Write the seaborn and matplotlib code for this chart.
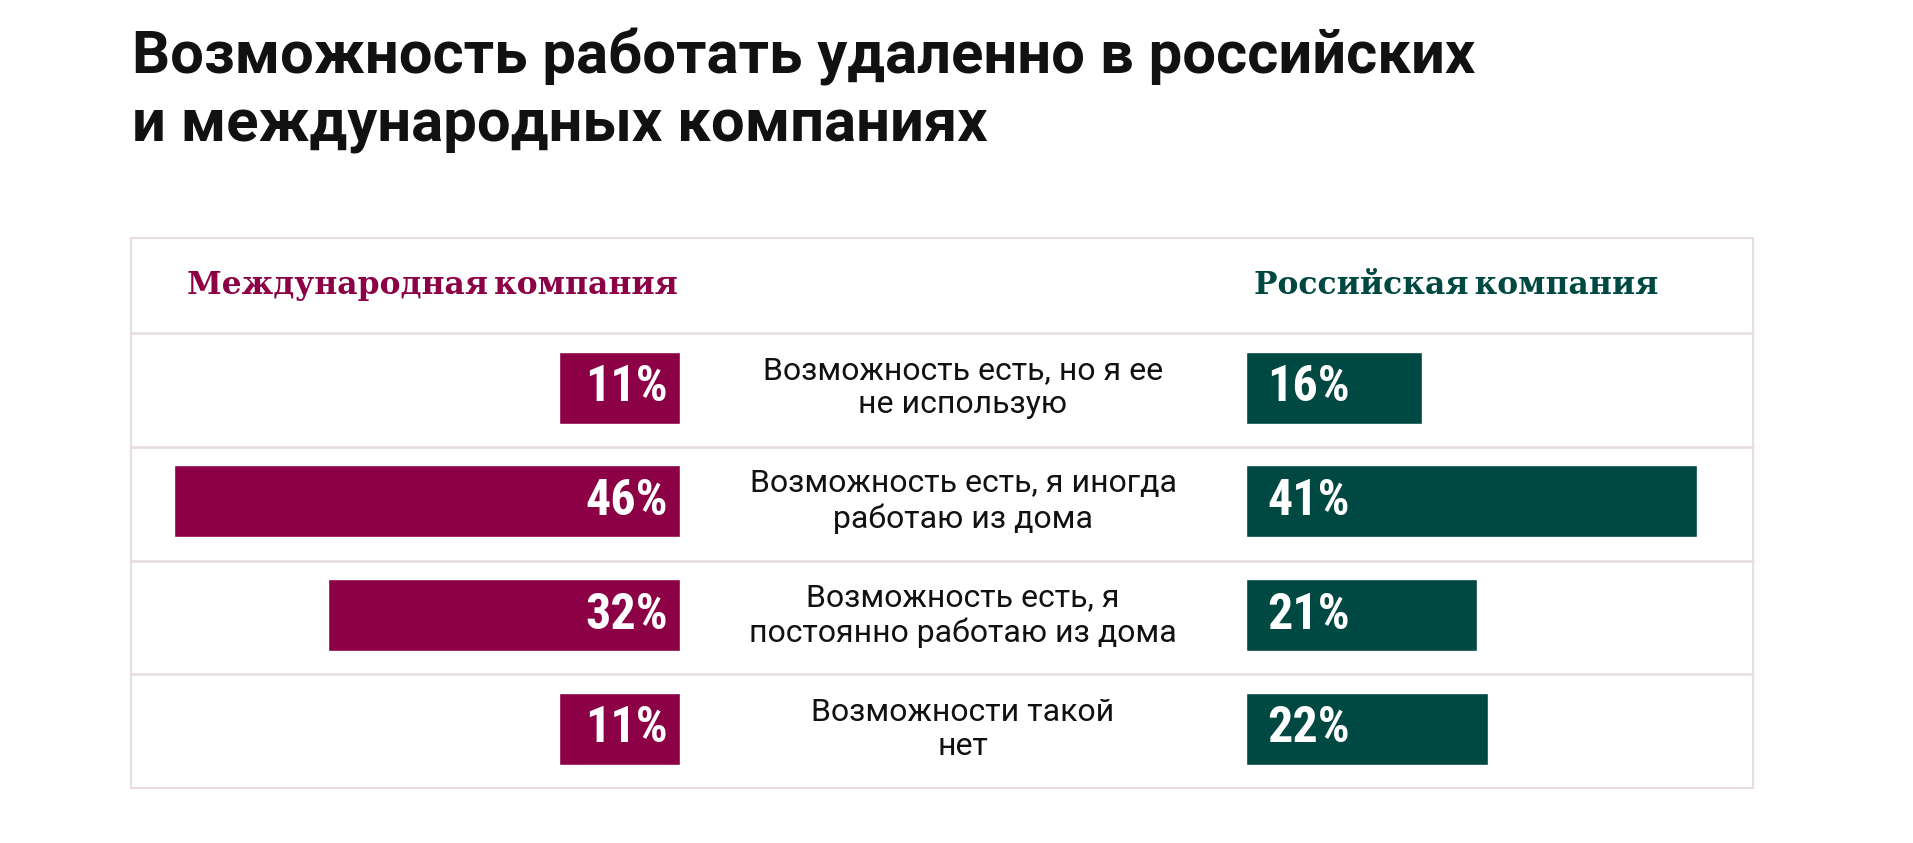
import numpy as np
import pandas as pd
import seaborn as sns
import matplotlib.pyplot as plt
from matplotlib import font_manager

# ---- data ----
answers = [
    "Возможность есть, но я ее\nне использую",
    "Возможность есть, я иногда\nработаю из дома",
    "Возможность есть, я\nпостоянно работаю из дома",
    "Возможности такой\nнет",
]
intl_share = [11, 46, 32, 11]
rus_share = [16, 41, 21, 22]

title_lines = ["Возможность работать удаленно в российских",
               "и международных компаниях"]
intl_name = "Международная компания"
rus_name = "Российская компания"

MAGENTA = "#8c0046"
GREEN = "#004842"
GRID = "#e8dde3"

sns.set_theme(style="white")
plt.rcParams['font.family'] = ['Roboto', 'DejaVu Sans']

installed = {f.name for f in font_manager.fontManager.ttflist}


def pick(*names):
    for n in names:
        if n in installed:
            return n
    return 'DejaVu Sans'


cond_font = pick('Roboto Condensed', 'Barlow Condensed', 'Asap Condensed', 'Archivo Narrow')
slab_font = pick('Roboto Slab', 'Zilla Slab', 'Arvo', 'Noto Serif', 'DejaVu Serif')

W, H = 1913, 843
fig = plt.figure(figsize=(W / 100, H / 100), dpi=100)

# background axes in pixel coordinates for frame, lines and texts
bg = fig.add_axes([0, 0, 1, 1], zorder=0)
bg.set_xlim(0, W)
bg.set_ylim(H, 0)
bg.axis('off')

box_l, box_r, box_t, box_b = 131, 1753, 238, 788
head_b = 333
row_h = (box_b - head_b) / len(answers)

bg.plot([box_l, box_r, box_r, box_l, box_l], [box_t, box_t, box_b, box_b, box_t],
        color=GRID, lw=1.5, solid_joinstyle='miter')
for i in range(len(answers)):
    y = head_b + i * row_h
    bg.plot([box_l, box_r], [y, y], color=GRID, lw=2)

bg.text(132, 73, title_lines[0], fontsize=43, fontweight='bold', color='#111111', va='baseline')
bg.text(132, 141, title_lines[1], fontsize=43, fontweight='bold', color='#111111', va='baseline')

bg.text(187, 286, intl_name, fontsize=22.6, fontweight='bold', color=MAGENTA,
        va='center', family=[slab_font, 'DejaVu Serif'])
bg.text(1254, 286, rus_name, fontsize=22.6, fontweight='bold', color=GREEN,
        va='center', family=[slab_font, 'DejaVu Serif'])

left_zero, right_zero = 680, 1246
mid_x = (left_zero + right_zero) / 2
for i, label in enumerate(answers):
    bg.text(mid_x, head_b + (i + 0.5) * row_h - 2, label, fontsize=23, color='#111111',
            ha='center', va='center', linespacing=1.22)

# bar axes
df = pd.DataFrame({"answer": answers, "intl": intl_share, "rus": rus_share})
bar_w = 72 / row_h
px_per_pct = 11.0

ax_l = fig.add_axes([box_l / W, (H - box_b) / H, (left_zero - box_l) / W, (box_b - head_b) / H],
                    zorder=1)
ax_r = fig.add_axes([right_zero / W, (H - box_b) / H, (box_r - right_zero) / W, (box_b - head_b) / H],
                    zorder=1)

sns.barplot(data=df, x="intl", y="answer", orient='h', color=MAGENTA, width=bar_w,
            saturation=1, ax=ax_l)
sns.barplot(data=df, x="rus", y="answer", orient='h', color=GREEN, width=bar_w,
            saturation=1, ax=ax_r)

ax_l.set_xlim((left_zero - box_l) / px_per_pct, 0)
ax_r.set_xlim(0, (box_r - right_zero) / px_per_pct)

for ax in (ax_l, ax_r):
    ax.set_ylim(len(answers) - 0.5 + 0.02, -0.5 + 0.02)
    ax.patch.set_alpha(0)
    ax.axis('off')

for i, v in enumerate(intl_share):
    ax_l.text(12 / px_per_pct, i, f"{v}%", color='white', fontsize=36, fontweight='bold',
              ha='right', va='center', family=[cond_font, 'DejaVu Sans'])
for i, v in enumerate(rus_share):
    ax_r.text(21 / px_per_pct, i, f"{v}%", color='white', fontsize=36, fontweight='bold',
              ha='left', va='center', family=[cond_font, 'DejaVu Sans'])

fig.savefig("out.png", dpi=100, facecolor='white')
